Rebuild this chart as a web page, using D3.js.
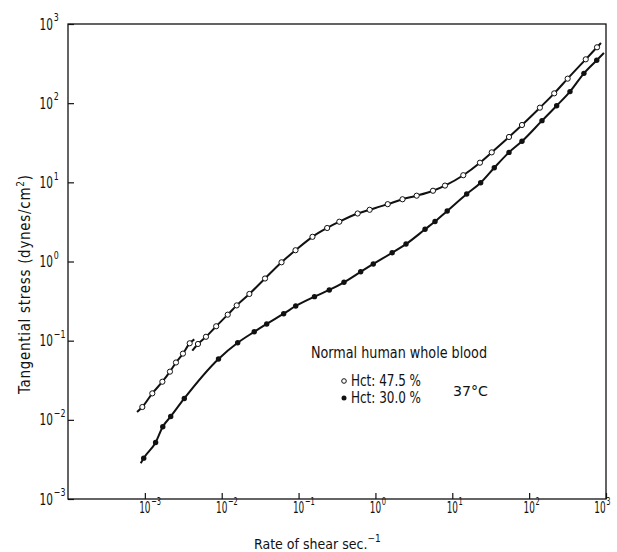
<!DOCTYPE html>
<html>
<head>
<meta charset="utf-8">
<script src="https://cdn.jsdelivr.net/npm/d3@7"></script>
<style>
  body { margin: 0; background: #fff; }
  svg text { font-family: "DejaVu Sans Condensed", "DejaVu Sans", sans-serif; fill: #111; }
</style>
</head>
<body>
<svg id="chart" width="617" height="552"></svg>
<script>
// DATA - shear rate in 1/s, stress in dynes/cm2
// Hct 47.5 % (open circles)
const hct475Rate = [9.27e-4, 1.25e-3, 1.69e-3, 2.12e-3, 2.54e-3, 3.13e-3, 3.83e-3,
  4.91e-3, 6.24e-3, 8.47e-3, 0.01197, 0.01567, 0.0229, 0.0366, 0.0600, 0.0912, 0.1517,
  0.2355, 0.339, 0.587, 0.841, 1.445, 2.25, 3.44, 5.61, 8.04, 13.9, 22.9, 32.6, 54.7,
  80.7, 138, 212, 317, 545, 764];
const hct475Stress = [0.01452, 0.0216, 0.0303, 0.0406, 0.0530, 0.0686, 0.0927,
  0.0908, 0.112, 0.152, 0.213, 0.279, 0.389, 0.610, 0.977, 1.387, 2.05,
  2.65, 3.18, 4.04, 4.50, 5.30, 6.11, 6.78, 7.83, 9.10, 12.3, 17.7, 23.9, 37.4,
  53.0, 87.7, 133, 204, 358, 508];
// the curve is drawn in two strokes; the first one covers the first 7 points
const hct475Split = 7;
const hct475Ends = [[7.91e-4, 0.01256], [4.40e-3, 0.104], [4.14e-3, 0.0746], [861, 575]];

// Hct 30.0 % (filled circles)
const hct30Rate = [9.66e-4, 1.38e-3, 1.71e-3, 2.17e-3, 3.26e-3, 9.08e-3, 0.01614, 0.0265,
  0.0385, 0.0640, 0.0918, 0.161, 0.251, 0.390, 0.643, 0.938, 1.65, 2.50, 4.42, 5.96,
  8.59, 15.4, 23.4, 35.2, 54.7, 80.7, 147, 228, 340, 516, 757];
const hct30Stress = [3.28e-3, 5.18e-3, 8.18e-3, 0.01102, 0.01862, 0.0587, 0.0940, 0.1294,
  0.1626, 0.219, 0.274, 0.360, 0.437, 0.546, 0.741, 0.931, 1.29, 1.66, 2.55, 3.20,
  4.35, 7.13, 9.89, 15.3, 23.9, 33.0, 60.1, 92.9, 140, 238, 348];
const hct30Ends = [[8.83e-4, 2.82e-3], [942, 431]];

// axis ticks
const xTickVals = [1e-3, 1e-2, 1e-1, 1, 10, 100, 1000];
const xTickExp = ["\u22123", "\u22122", "\u22121", "0", "1", "2", "3"];
const yTickVals = [1e-3, 1e-2, 1e-1, 1, 10, 100, 1000];
const yTickExp = ["\u22123", "\u22122", "\u22121", "0", "1", "2", "3"];

const legendTitle = "Normal human whole blood";
const legendLabels = ["Hct: 47.5 %", "Hct: 30.0 %"];
const tempLabel = "37\u00b0C";

// CHART
const svg = d3.select("#chart");
const x = d3.scaleLog().domain([1e-4, 1e3]).range([68, 606]);
const y = d3.scaleLog().domain([1e-3, 1e3]).range([499, 24]);

// frame
svg.append("rect")
  .attr("x", x.range()[0]).attr("y", y.range()[1])
  .attr("width", x.range()[1] - x.range()[0])
  .attr("height", y.range()[0] - y.range()[1])
  .attr("fill", "none").attr("stroke", "#111").attr("stroke-width", 1.3);

// inward ticks
svg.append("g")
  .attr("transform", "translate(0," + y.range()[0] + ")")
  .call(d3.axisBottom(x).tickValues(xTickVals).tickSize(-6).tickFormat(""))
  .call(g => g.select(".domain").remove())
  .selectAll("line").attr("stroke", "#111").attr("stroke-width", 1.2);

svg.append("g")
  .attr("transform", "translate(" + x.range()[0] + ",0)")
  .call(d3.axisLeft(y).tickValues(yTickVals).tickSize(-6).tickFormat(""))
  .call(g => g.select(".domain").remove())
  .selectAll("line").attr("stroke", "#111").attr("stroke-width", 1.2);

// power-of-ten label: narrow "10" with superscript exponent
// align: "middle" centres the "10" on 0, "end" ends the "10" at 0
function powLabel(px, py, exp, size, sx, align) {
  const g = svg.append("g").attr("transform", `translate(${px},${py}) scale(${sx},1)`);
  const t = g.append("text").attr("font-size", size);
  t.append("tspan").text("10");
  const w = t.node().getComputedTextLength();
  t.append("tspan").attr("dy", -size * 0.55).attr("dx", 1).attr("font-size", size * 0.75).text(exp);
  t.attr("x", align === "middle" ? -w / 2 : -w);
}
xTickVals.forEach((v, i) => {
  const shift = i === xTickVals.length - 1 ? -6 : 0;
  powLabel(x(v) + shift, 513, xTickExp[i], 15, 0.66, "middle");
});
yTickVals.forEach((v, i) => powLabel(53, y(v) + 5.5, yTickExp[i], 15, 0.78, "end"));

// axis titles
const xt = svg.append("text").attr("x", 254).attr("y", 549).attr("font-size", 14);
xt.append("tspan").text("Rate of shear sec.");
xt.append("tspan").attr("dy", -7).attr("font-size", 10).text("\u22121");

const yt = svg.append("text")
  .attr("transform", "translate(30,394) rotate(-90)")
  .attr("font-size", 15)
  .attr("textLength", 219).attr("lengthAdjust", "spacing");
yt.append("tspan").text("Tangential stress (dynes/cm");
yt.append("tspan").attr("dy", -6).attr("font-size", 10).text("2");
yt.append("tspan").attr("dy", 6).text(")");

// curves
const line = d3.line().x(d => x(d[0])).y(d => y(d[1])).curve(d3.curveMonotoneX);
const pts475 = hct475Rate.map((r, i) => [r, hct475Stress[i]]);
const pts30 = hct30Rate.map((r, i) => [r, hct30Stress[i]]);

const strokes = [
  [hct475Ends[0], ...pts475.slice(0, hct475Split), hct475Ends[1]],
  [hct475Ends[2], ...pts475.slice(hct475Split), hct475Ends[3]],
  [hct30Ends[0], ...pts30, hct30Ends[1]]
];
svg.selectAll("path.curve").data(strokes).enter().append("path")
  .attr("class", "curve")
  .attr("d", line)
  .attr("fill", "none").attr("stroke", "#111").attr("stroke-width", 2);

svg.selectAll("circle.open").data(pts475).enter().append("circle")
  .attr("class", "open")
  .attr("cx", d => x(d[0])).attr("cy", d => y(d[1])).attr("r", 2.6)
  .attr("fill", "#fff").attr("stroke", "#111").attr("stroke-width", 1);

svg.selectAll("circle.filled").data(pts30).enter().append("circle")
  .attr("class", "filled")
  .attr("cx", d => x(d[0])).attr("cy", d => y(d[1])).attr("r", 2.7)
  .attr("fill", "#111");

// legend
svg.append("text").attr("x", 311).attr("y", 358).attr("font-size", 15)
  .attr("textLength", 176).attr("lengthAdjust", "spacingAndGlyphs").text(legendTitle);
svg.append("circle").attr("cx", 344).attr("cy", 381).attr("r", 2.3)
  .attr("fill", "#fff").attr("stroke", "#111").attr("stroke-width", 1);
svg.append("circle").attr("cx", 344).attr("cy", 398).attr("r", 2.5).attr("fill", "#111");
legendLabels.forEach((t, i) => {
  svg.append("text").attr("x", 351).attr("y", 386 + i * 17).attr("font-size", 15)
    .attr("textLength", 70).attr("lengthAdjust", "spacingAndGlyphs").text(t);
});
svg.append("text").attr("x", 453).attr("y", 396).attr("font-size", 14)
  .attr("textLength", 35).attr("lengthAdjust", "spacingAndGlyphs").text(tempLabel);
</script>
</body>
</html>
